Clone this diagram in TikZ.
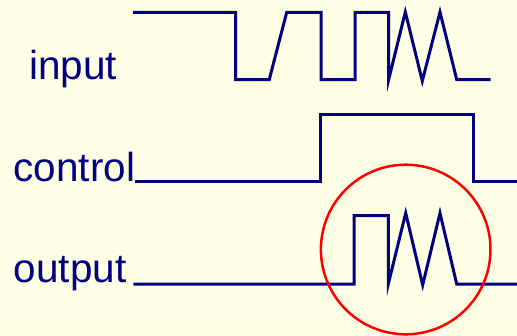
\documentclass[tikz,border=0pt]{standalone}
\usepackage{fontspec}
\setmainfont{Liberation Sans}
\definecolor{bgyellow}{RGB}{255,255,229}
\definecolor{navy}{RGB}{0,0,128}
\definecolor{circred}{RGB}{255,0,0}
\begin{document}
\begin{tikzpicture}[x=1pt,y=-1pt,
  lbl/.style={anchor=base west,inner sep=0pt,text=navy,font=\fontsize{40.5}{48}\selectfont},
  wave/.style={draw=navy,line width=3pt,line join=miter},
  ring/.style={draw=circred,line width=2.5pt}]
\fill[bgyellow] (0,0) rectangle (517,335);
\useasboundingbox (0,0) rectangle (517,335);
\node[lbl] (input) at (29,79.3) {input};
\node[lbl] (control) at (13.4,181.5) {control};
\node[lbl] (output) at (13.6,282.7) {output};
% input waveform
\draw[wave] (133,12.3) -- (235.7,12.3) -- (235.7,79.5) -- (269.3,79.5) -- (286.7,12.3)
  -- (321,12.3) -- (321,79.5) -- (355,79.5) -- (355,12.3) -- (388.7,12.3) -- (388.7,79.5)
  -- (405.3,12) -- (422.3,81) -- (440,12) -- (456.7,79.5) -- (490.7,79.5);
% control waveform
\draw[wave] (135,181) -- (320.7,181) -- (320.7,114) -- (473.3,114) -- (473.3,181) -- (517,181);
% output waveform
\draw[wave] (133.3,284) -- (354,284) -- (354,215.7) -- (388.3,215.7) -- (388.3,284)
  -- (405.7,213) -- (422.7,285) -- (440,213) -- (456.7,284) -- (517,284);
% highlight circle
\draw[ring] (405.7,249.5) circle (84.8);
\end{tikzpicture}
\end{document}
